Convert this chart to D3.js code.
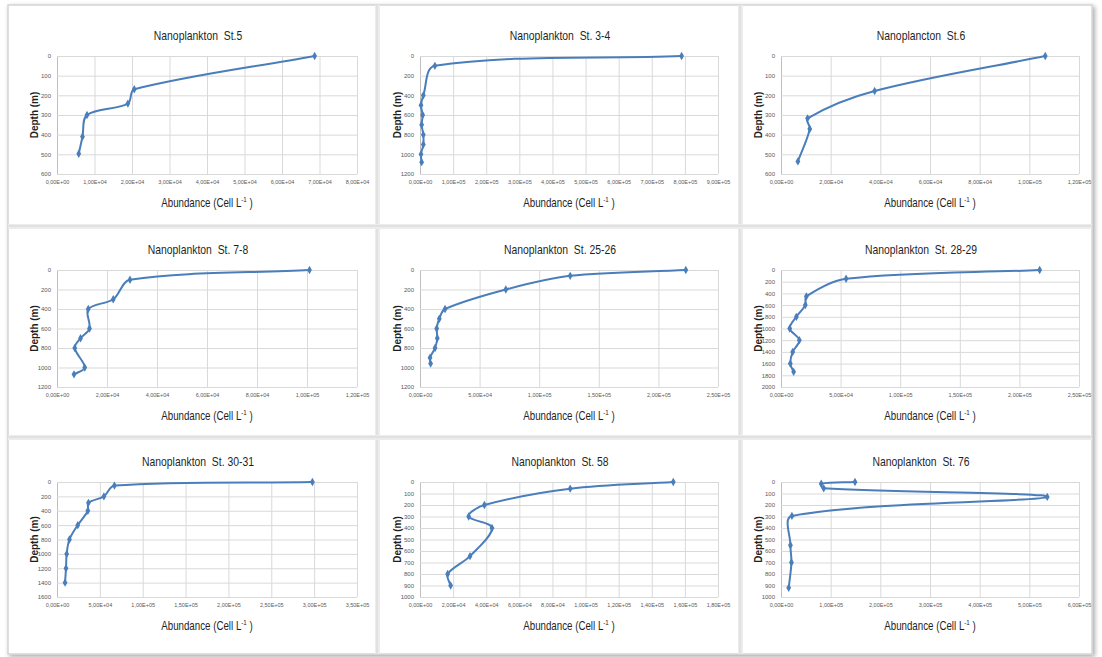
<!DOCTYPE html>
<html>
<head>
<meta charset="utf-8">
<script src="https://cdn.jsdelivr.net/npm/d3@7"></script>
<style>
  body { margin: 0; background: #fff; }
  svg { display: block; }
</style>
</head>
<body>
<div id="chart"></div>
<script>
// chart titles, one per station
const titles = [
    "Nanoplankton\u00a0 St.5", "Nanoplankton\u00a0 St. 3-4", "Nanoplancton\u00a0 St.6",
    "Nanoplankton\u00a0 St. 7-8", "Nanoplankton\u00a0 St. 25-26", "Nanoplankton\u00a0 St. 28-29",
    "Nanoplankton\u00a0 St. 30-31", "Nanoplankton\u00a0 St. 58", "Nanoplankton\u00a0 St. 76"
];

// axis extents
const xMax = [8e4, 9e5, 1.2e5, 1.2e5, 2.5e5, 2.5e5, 3.5e5, 1.8e5, 6e5];
const xStep = [1e4, 1e5, 2e4, 2e4, 5e4, 5e4, 5e4, 2e4, 1e5];
const yMax = [600, 1200, 600, 1200, 1200, 2000, 1600, 1000, 1000];
const yStep = [100, 200, 100, 200, 200, 200, 200, 100, 100];

// depth (m) and abundance (cell/L) per station
const depthSt5 = [0, 169, 242, 300, 410, 497];
const abundSt5 = [6.87e4, 2.06e4, 1.89e4, 8.0e3, 6.8e3, 5.8e3];

const depthSt34 = [0, 100, 400, 500, 600, 700, 800, 900, 1000, 1080];
const abundSt34 = [7.9e5, 4.5e4, 1.0e4, 3e3, 8e3, 5e3, 1.0e4, 1.0e4, 3e3, 5e3];

const depthSt6 = [0, 178, 317, 371, 536];
const abundSt6 = [1.064e5, 3.77e4, 1.07e4, 1.16e4, 6.8e3];

const depthSt78 = [0, 100, 300, 400, 600, 700, 800, 1000, 1070];
const abundSt78 = [1.01e5, 2.92e4, 2.25e4, 1.25e4, 1.3e4, 9.4e3, 7.1e3, 1.11e4, 6.8e3];

const depthSt2526 = [0, 60, 200, 400, 500, 600, 700, 800, 900, 960];
const abundSt2526 = [2.23e5, 1.26e5, 7.2e4, 2.1e4, 1.62e4, 1.4e4, 1.45e4, 1.26e4, 8.4e3, 8.9e3];

const depthSt2829 = [0, 150, 450, 600, 800, 1000, 1200, 1400, 1600, 1740];
const abundSt2829 = [2.17e5, 5.46e4, 2.13e4, 2.04e4, 1.29e4, 7.3e3, 1.54e4, 9.8e3, 7.8e3, 1.06e4];

const depthSt3031 = [0, 50, 200, 290, 400, 600, 800, 1000, 1200, 1400];
const abundSt3031 = [2.98e5, 6.7e4, 5.47e4, 3.67e4, 3.6e4, 2.42e4, 1.45e4, 1.13e4, 1.05e4, 9.4e3];

const depthSt58 = [0, 58, 200, 300, 400, 645, 800, 900];
const abundSt58 = [1.53e5, 9.07e4, 3.89e4, 2.94e4, 4.35e4, 3.02e4, 1.67e4, 1.85e4];

const depthSt76 = [0, 15, 55, 130, 295, 550, 700, 920];
const abundSt76 = [1.49e5, 8.1e4, 8.6e4, 5.36e5, 2.2e4, 1.9e4, 2.1e4, 1.55e4];

const depths = [depthSt5, depthSt34, depthSt6, depthSt78, depthSt2526, depthSt2829, depthSt3031, depthSt58, depthSt76];
const abunds = [abundSt5, abundSt34, abundSt6, abundSt78, abundSt2526, abundSt2829, abundSt3031, abundSt58, abundSt76];

const svg = d3.select("#chart")
    .append("svg")
    .attr("width", 1102)
    .attr("height", 657);

const lineColor = "#4a7ebb";
const gridColor = "#d9d9d9";
const font = "'Liberation Sans', Arial, sans-serif";

// Excel-like smoothed line: bezier with chord-weighted tangents (no loops)
function curveExcel(context) {
    let pts = [];
    return {
        areaStart() {}, areaEnd() {},
        lineStart() { pts = []; },
        point(x, y) { pts.push([+x, +y]); },
        lineEnd() {
            const n = pts.length;
            if (!n) return;
            context.moveTo(pts[0][0], pts[0][1]);
            const dist = (a, b) => Math.hypot(b[0] - a[0], b[1] - a[1]);
            for (let i = 0; i < n - 1; i++) {
                const p0 = pts[i - 1] || pts[i], p1 = pts[i], p2 = pts[i + 1], p3 = pts[i + 2] || pts[i + 1];
                const d01 = dist(p0, p1), d12 = dist(p1, p2), d23 = dist(p2, p3);
                const f1 = d01 + d12 > 0 ? d12 / (d01 + d12) / 3 : 0;
                const f2 = d12 + d23 > 0 ? d12 / (d12 + d23) / 3 : 0;
                const c1 = [p1[0] + (p2[0] - p0[0]) * f1, p1[1] + (p2[1] - p0[1]) * f1];
                const c2 = [p2[0] - (p3[0] - p1[0]) * f2, p2[1] - (p3[1] - p1[1]) * f2];
                context.bezierCurveTo(c1[0], c1[1], c2[0], c2[1], p2[0], p2[1]);
            }
        }
    };
}

// drop shadow for the pasted composite
const defs = svg.append("defs");
const shadow = defs.append("filter").attr("id", "shadow")
    .attr("x", "-5%").attr("y", "-5%").attr("width", "110%").attr("height", "110%");
shadow.append("feGaussianBlur").attr("in", "SourceAlpha").attr("stdDeviation", 2.5);
shadow.append("feOffset").attr("dx", 2).attr("dy", 2).attr("result", "blur");
shadow.append("feComponentTransfer").append("feFuncA").attr("type", "linear").attr("slope", 0.35);
const merge = shadow.append("feMerge");
merge.append("feMergeNode");
merge.append("feMergeNode").attr("in", "SourceGraphic");

svg.append("rect")
    .attr("x", 8).attr("y", 5)
    .attr("width", 1084).attr("height", 649)
    .attr("fill", "#fff")
    .attr("stroke", "#d4d4d4")
    .attr("stroke-width", 1.5)
    .attr("filter", "url(#shadow)");

// panel dividers
const colDiv = [377, 740];
const rowDiv = [226, 437];
colDiv.forEach(x => {
    svg.append("rect").attr("x", x - 2).attr("y", 5).attr("width", 5).attr("height", 649).attr("fill", "#ececec");
    svg.append("line").attr("x1", x).attr("x2", x).attr("y1", 5).attr("y2", 654)
        .attr("stroke", "#d6d6d6").attr("stroke-width", 1);
});
rowDiv.forEach(y => {
    svg.append("rect").attr("x", 8).attr("y", y - 2).attr("width", 1084).attr("height", 5).attr("fill", "#ececec");
    svg.append("line").attr("x1", 8).attr("x2", 1092).attr("y1", y).attr("y2", y)
        .attr("stroke", "#d6d6d6").attr("stroke-width", 1);
});

// plot area layout
const colLeft = [57, 420, 781];
const colRight = [357, 718, 1079];
const rowTop = [56, 270, 482];
const rowBottom = [174, 387, 597];

function fmtE(v) {
    if (v === 0) return "0,00E+00";
    const e = Math.floor(Math.log10(v) + 1e-9);
    const m = v / Math.pow(10, e);
    return m.toFixed(2).replace(".", ",") + "E+" + String(e).padStart(2, "0");
}

titles.forEach((title, i) => {
    const c = i % 3, r = Math.floor(i / 3);
    const x0 = colLeft[c], x1 = colRight[c], y0 = rowTop[r], y1 = rowBottom[r];

    const x = d3.scaleLinear().domain([0, xMax[i]]).range([x0, x1]);
    const y = d3.scaleLinear().domain([0, yMax[i]]).range([y0, y1]);

    const g = svg.append("g");

    const xTicks = d3.range(0, xMax[i] + xStep[i] / 2, xStep[i]);
    const yTicks = d3.range(0, yMax[i] + yStep[i] / 2, yStep[i]);

    // gridlines
    g.append("g")
        .attr("transform", `translate(0,${y1})`)
        .call(d3.axisBottom(x).tickValues(xTicks).tickSize(-(y1 - y0)).tickFormat(fmtE).tickPadding(6))
        .call(a => a.select(".domain").remove())
        .call(a => a.selectAll("line").attr("stroke", gridColor))
        .call(a => a.selectAll("text")
            .attr("fill", "#595959")
            .attr("font-family", font)
            .attr("font-size", 5.5));

    g.append("g")
        .attr("transform", `translate(${x0},0)`)
        .call(d3.axisLeft(y).tickValues(yTicks).tickSize(-(x1 - x0)).tickFormat(d3.format("d")).tickPadding(6))
        .call(a => a.select(".domain").attr("stroke", "#bfbfbf"))
        .call(a => a.selectAll("line").attr("stroke", gridColor))
        .call(a => a.selectAll("text")
            .attr("fill", "#595959")
            .attr("font-family", font)
            .attr("font-size", 6));

    // profile line
    const pts = depths[i].map((d, k) => [abunds[i][k], d]);
    g.append("path")
        .datum(pts)
        .attr("fill", "none")
        .attr("stroke", lineColor)
        .attr("stroke-width", 2)
        .attr("d", d3.line().x(p => x(p[0])).y(p => y(p[1])).curve(curveExcel));

    g.selectAll(".mk")
        .data(pts)
        .join("path")
        .attr("transform", p => `translate(${x(p[0])},${y(p[1])})`)
        .attr("d", d3.symbol().type(d3.symbolDiamond).size(20))
        .attr("fill", lineColor);

    // title (Calibri-like narrow look)
    g.append("text")
        .attr("transform", `translate(${(x0 + x1) / 2 - 9},${y0 - 16}) scale(0.8,1)`)
        .attr("text-anchor", "middle")
        .attr("font-family", font)
        .attr("font-size", 13)
        .attr("fill", "#1f1f1f")
        .text(title);

    // x axis title
    const xt = g.append("text")
        .attr("transform", `translate(${(x0 + x1) / 2},${y1 + 33}) scale(0.78,1)`)
        .attr("text-anchor", "middle")
        .attr("font-family", font)
        .attr("font-size", 12.5)
        .attr("fill", "#1f1f1f");
    xt.append("tspan").text("Abundance (Cell L");
    xt.append("tspan").attr("font-size", 8).attr("dy", -5).text("-1");
    xt.append("tspan").attr("dy", 5).text(" )");

    // y axis title
    g.append("text")
        .attr("transform", `translate(${x0 - 19},${(y0 + y1) / 2}) rotate(-90)`)
        .attr("text-anchor", "middle")
        .attr("font-family", font)
        .attr("font-weight", "bold")
        .attr("font-size", 10)
        .attr("fill", "#1f1f1f")
        .text("Depth (m)");
});
</script>
</body>
</html>
